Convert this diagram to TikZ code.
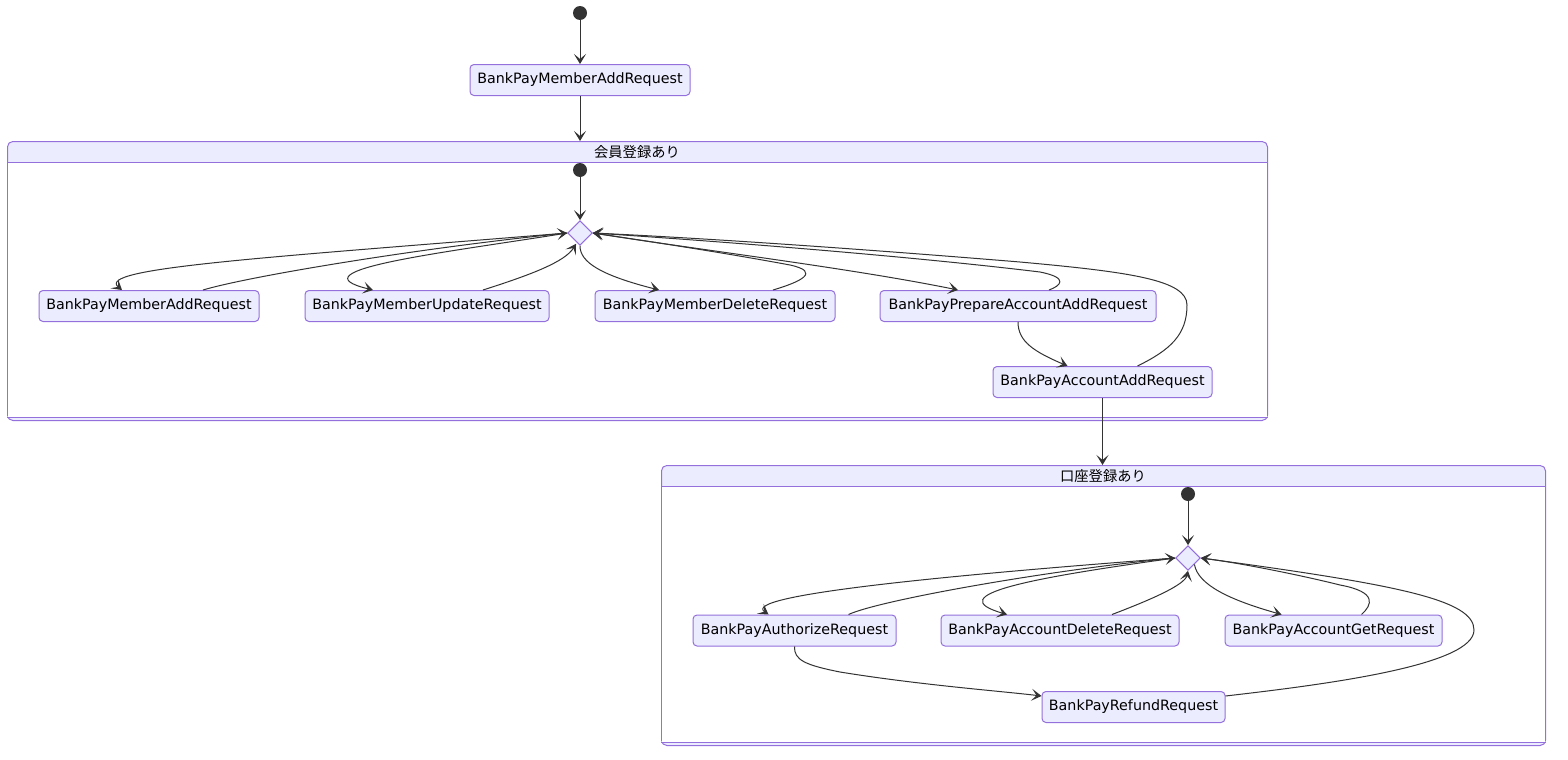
\documentclass[tikz,border=0pt]{standalone}
\usepackage{fontspec}
\setmainfont{DejaVu Sans}
\newfontfamily\jpfont{Noto Sans CJK JP}
\usetikzlibrary{shapes.geometric,arrows.meta,calc}
\definecolor{nfill}{HTML}{ECECFF}
\definecolor{nline}{HTML}{9370DB}
\definecolor{ink}{HTML}{333333}
\begin{document}
\begin{tikzpicture}[x=0.75pt,y=-0.75pt,
  st/.style={draw=nline, fill=nfill, rounded corners=3pt, line width=0.75pt,
    minimum height=23.25pt, inner sep=0pt, font=\fontsize{10.7}{12}\selectfont, text=black},
  bw/.style={minimum width=#1*0.75pt},
  startdot/.style={circle, fill=ink, minimum size=10.5pt, inner sep=0pt},
  choice/.style={diamond, draw=nline, fill=nfill, minimum width=18.5pt, minimum height=18.5pt,
    inner sep=0pt, line width=0.75pt},
  edge/.style={draw=ink, line width=0.75pt, -{Stealth[length=7.5pt,width=9pt,inset=3.75pt]}},
  comp/.style={draw=nline, fill=nfill, line width=0.75pt, rounded corners=4pt, inner sep=0pt},
  compline/.style={draw=nline, line width=0.75pt},
  ttl/.style={font=\jpfont\fontsize{10.7}{12}\selectfont, text=black}]
\useasboundingbox (0,0) rectangle (1568,760);

% ---------- composites ----------
\node[comp, anchor=north west, minimum width=1260*0.75pt, minimum height=279*0.75pt] (c1) at (7,141) {};
\fill[white] ($(c1.north west)+(0.6,21)$) rectangle ($(c1.south east)+(-0.6,-4)$);
\draw[compline] ($(c1.north west)+(0,21)$) -- ($(c1.north east)+(0,21)$);
\draw[compline] ($(c1.south west)+(0,-4)$) -- ($(c1.south east)+(0,-4)$);
\node[ttl] (t1) at (637,152) {会員登録あり};

\node[comp, anchor=north west, minimum width=884*0.75pt, minimum height=280*0.75pt] (c2) at (661,465) {};
\fill[white] ($(c2.north west)+(0.6,21)$) rectangle ($(c2.south east)+(-0.6,-4)$);
\draw[compline] ($(c2.north west)+(0,21)$) -- ($(c2.north east)+(0,21)$);
\draw[compline] ($(c2.south west)+(0,-4)$) -- ($(c2.south east)+(0,-4)$);
\node[ttl] (t2) at (1103,476) {口座登録あり};

% ---------- top level ----------
\node[startdot] (s0) at (580,13) {};
\node[st, bw=220] (top) at (580,80) {BankPayMemberAddRequest};
\draw[edge] (s0) -- (top);
\draw[edge] (top.south) -- (top.south |- c1.north);

% ---------- composite 1 ----------
\node[startdot] (s1) at (580,170) {};
\node[choice] (d1) at (580,233) {};
\node[st, bw=220] (m1) at (149,306) {BankPayMemberAddRequest};
\node[st, bw=244] (m2) at (427,306) {BankPayMemberUpdateRequest};
\node[st, bw=240] (m3) at (715,306) {BankPayMemberDeleteRequest};
\node[st, bw=276] (m4) at (1018,306) {BankPayPrepareAccountAddRequest};
\node[st, bw=219] (aa) at (1102.5,382) {BankPayAccountAddRequest};

\draw[edge] (s1) -- (d1);
\draw[edge] (d1.west) .. controls (260,258) and (95,268) .. ($(m1.north)+(-27,0)$);
\draw[edge] ($(m1.north)+(54,0)$) .. controls (250,276) and (420,248) .. (d1.west);
\draw[edge] (d1.west) .. controls (450,252) and (290,270) .. ($(m2.north)+(-54,0)$);
\draw[edge] ($(m2.north)+(56,0)$) .. controls (530,275) and (565,262) .. ($(d1.south)+(-4,-2)$);
\draw[edge] (d1.south) .. controls (580,262) and (600,275) .. ($(m3.north)+(-56,0)$);
\draw[edge] ($(m3.north)+(58,0)$) .. controls (800,282) and (822,272) .. (790,265)
   .. controls (720,252) and (640,240) .. (d1.east);
\draw[edge] (d1.east) .. controls (700,250) and (850,268) .. ($(m4.north)+(-60,0)$);
\draw[edge] ($(m4.north)+(31,0)$) .. controls (1060,286) and (1070,278) .. (1040,272)
   .. controls (900,255) and (700,240) .. (d1.east);
\draw[edge] (m4.south) .. controls (1018,342) and (1035,352) .. ($(aa.north)+(-35,0)$);
\draw[edge] ($(aa.north)+(35,0)$) .. controls (1170,350) and (1187,335) .. (1187,305)
   .. controls (1187,280) and (1130,272) .. (1020,262)
   .. controls (850,248) and (700,238) .. (d1.east);

\draw[edge] (aa.south) -- (aa.south |- c2.north);

% ---------- composite 2 ----------
\node[startdot] (s2) at (1188,494) {};
\node[choice] (d2) at (1188,558) {};
\node[st, bw=203] (au) at (794.5,630.5) {BankPayAuthorizeRequest};
\node[st, bw=238] (ad) at (1060,630.5) {BankPayAccountDeleteRequest};
\node[st, bw=217] (ag) at (1333.5,630.5) {BankPayAccountGetRequest};
\node[st, bw=183] (rf) at (1133.5,707) {BankPayRefundRequest};

\draw[edge] (s2) -- (d2);
\draw[edge] (d2.west) .. controls (950,575) and (740,595) .. ($(au.north)+(-26,0)$);
\draw[edge] ($(au.north)+(54,0)$) .. controls (880,600) and (1050,570) .. (d2.west);
\draw[edge] (d2.west) .. controls (1030,578) and (940,595) .. ($(ad.north)+(-53,0)$);
\draw[edge] ($(ad.north)+(52,0)$) .. controls (1150,600) and (1185,585) .. (d2.south);
\draw[edge] (d2.south east) .. controls (1198,585) and (1230,600) .. ($(ag.north)+(-52,0)$);
\draw[edge] ($(ag.north)+(28,0)$) .. controls (1372,605) and (1378,592) .. (1340,585)
   .. controls (1300,575) and (1240,563) .. (d2.east);
\draw[edge] (au.south) .. controls (794,660) and (805,665) .. (840,672)
   .. controls (920,685) and (1000,691) .. ($(rf.west)+(0,-11)$);
\draw[edge] ($(rf.east)+(0,-11)$) .. controls (1330,684) and (1474,665) .. (1474,630)
   .. controls (1474,600) and (1400,585) .. (d2.east);
\end{tikzpicture}
\end{document}
